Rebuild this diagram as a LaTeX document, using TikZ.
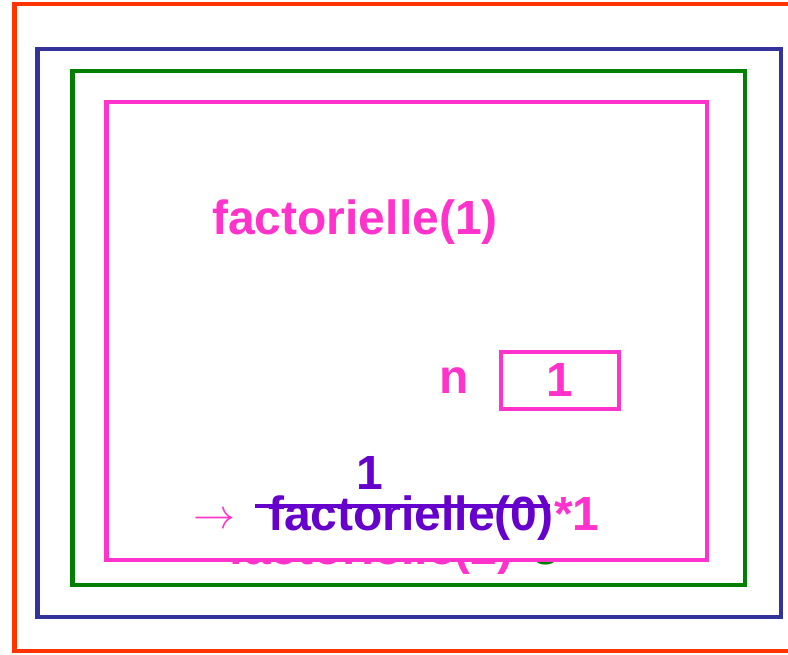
\documentclass[tikz,border=0pt]{standalone}
\usepackage{fontspec}
\setmainfont{Liberation Sans}
\definecolor{framered}{HTML}{FF3300}
\definecolor{frameblue}{HTML}{333399}
\definecolor{framegreen}{HTML}{008000}
\definecolor{framepink}{HTML}{FF33CC}
\definecolor{callpurple}{HTML}{6600CC}
\begin{document}
\begin{tikzpicture}[x=1pt, y=-1pt,
  frame/.style={line width=4.5pt},
  big/.style={font=\fontsize{48}{56}\selectfont\bfseries, inner sep=0pt},
  strike/.style={line width=4pt, callpurple}
]
\useasboundingbox (0,0) rectangle (788,654);
\draw[frame, framered] (14.5,4) rectangle (800,651);
\draw[frame, frameblue] (37.5,49) rectangle (781,617);
\draw[frame, framegreen] (72.5,71) rectangle (745,585);
% text of the green call, mostly hidden by the pink frame
\node[big, anchor=base west] (fgreen) at (228,564) {\color{framepink}factorielle(2)\color{framegreen}*3};
\draw[frame, framepink, fill=white] (106.5,102) rectangle (707,560);
\node[big, framepink] (title) at (355,222) {factorielle(1)};
\node[big, framepink] (nname) at (454,381) {n};
\node[draw, line width=4pt, framepink, minimum width=118pt, minimum height=57pt, inner sep=0pt] (nbox) at (560,380) {};
\node[big, framepink] (nval) at (nbox.center) {1};
\node[big, callpurple] (ret) at (370,473) {1};
\node[framepink, inner sep=0pt, anchor=base west] (arrow) at (193,528) {\scalebox{4.2}{$\rightarrow$}};
\node[big, callpurple, anchor=base west] (call) at (268,530) {factorielle(0)};
\node[big, framepink, anchor=base west] (mult) at (call.base east) {*1};
\draw[strike] (255,506) -- (550,506);
\end{tikzpicture}
\end{document}
